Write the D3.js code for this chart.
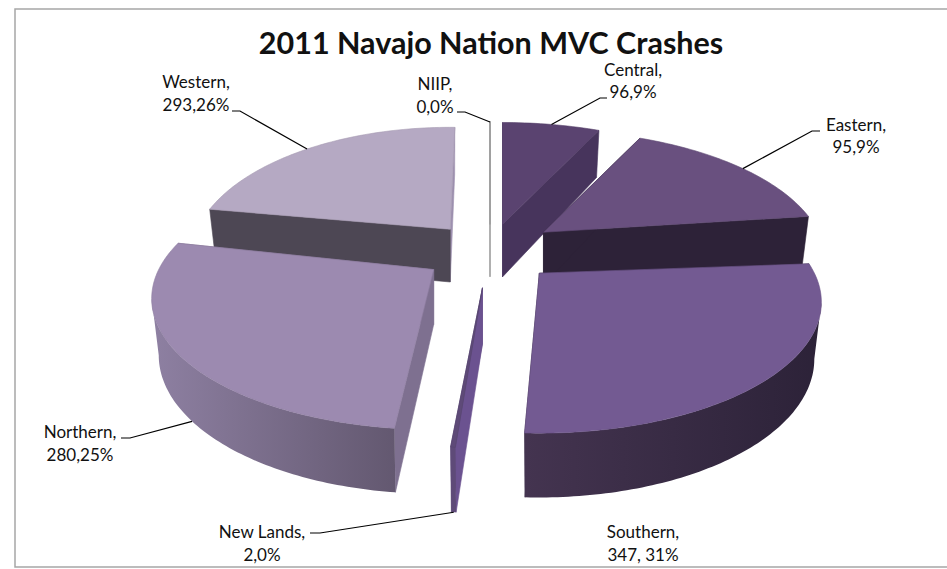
<!DOCTYPE html>
<html>
<head>
	<meta charset="utf-8">
	<script type="text/javascript" src="https://cdn.jsdelivr.net/npm/d3@7"></script>
	<style>
		html, body { margin: 0; padding: 0; background: #fff; overflow: hidden; }
		text { font-family: Lato, sans-serif; fill: #111; }
	</style>
</head>
<body>
	<script type="text/javascript">

	var title = "2011 Navajo Nation MVC Crashes";

	// label text as printed on the chart
	var categories = ["Central", "Eastern", "Southern", "New Lands", "Northern", "Western", "NIIP"];
	var crashes = [96, 95, 347, 2, 280, 293, 0];
	var percents = [9, 9, 31, 0, 25, 26, 0];

	// the wedges in the picture are not proportional to the printed numbers,
	// so the sweep of each one (degrees, as drawn) is read off the picture
	var drawnSweep = [20, 50, 110, 1, 107, 69, 0];
	var turn = [0, 0, 3, 5.5, 7, 4, 3];
	var explode = [1, 1.05, 0.87, 1, 0.89, 1, 1];
	var reach = [1, 1, 1, 1, 1, 0.92, 1];

	var topColor = ["#5a4370", "#69507f", "#735a92", "#5e4a78", "#9c8ab0", "#b5a9c3", "#a9a9a9"];
	var startWall = ["#4c3861", "#2d2238", "#3a2d48", "#6b5290", "#7e7090", "#4d4754", "#a9a9a9"];
	var endWall = ["#47345c", "#2d2238", "#3a2d48", "#5e4a78", "#847694", "#9d90af", "#a9a9a9"];
	var outerLeft = ["#47345c", "#2d2238", "#443450", "#5e4a78", "#8e80a2", "#4d4754", "#a9a9a9"];
	var outerRight = ["#47345c", "#2d2238", "#2c2238", "#5e4a78", "#635870", "#4d4754", "#a9a9a9"];

	// drawn back to front
	var drawOrder = [6, 0, 1, 2, 5, 4, 3];

	var labelLayout = {
		"Central":   {x: 633, y: 76,  dy: 22, elbow: [600, 98],  end: 607},
		"Eastern":   {x: 856, y: 131, dy: 22, elbow: [812, 131], end: 820},
		"Southern":  {x: 643, y: 538, dy: 23},
		"New Lands": {x: 262, y: 538, dy: 23, elbow: [320, 533], end: 310, base: true},
		"Northern":  {x: 80,  y: 438, dy: 23, elbow: [130, 438], end: 121, base: true},
		"Western":   {x: 196, y: 88,  dy: 23, elbow: [240, 111], end: 232},
		"NIIP":      {x: 435, y: 90,  dy: 23, elbow: [465, 112], end: 457}
	};

	var w = 947;
	var h = 569;

	// projected pie: rim is an ellipse whose centre sits below the apex (perspective)
	var cx = 490;
	var cy = 256;
	var rx = 282;
	var ry = 131;
	var rimDrop = 29;
	var explodeX = 72;
	var explodeY = 32;
	var baseShrink = 0.975;

	var depth = d3.scaleLinear().domain([130, 445]).range([47, 65]);
	var toRad = d3.scaleLinear().domain([0, 360]).range([0, 2 * Math.PI]);

	var pie = d3.pie()
		.sort(null)
		.endAngle(toRad(d3.sum(drawnSweep)))
		.value(function(d) { return d; });

	var slices = pie(drawnSweep).map(function(p, i) {
		var start = p.startAngle + toRad(turn[i]);
		var end = p.endAngle + toRad(turn[i]);
		var mid = (start + end) / 2;
		return {
			i: i,
			name: categories[i],
			start: start,
			end: end,
			mid: mid,
			ax: cx + explodeX * explode[i] * Math.sin(mid),
			ay: cy - explodeY * explode[i] * Math.cos(mid)
		};
	});

	function rim(s, t) {
		return [
			s.ax + rx * reach[s.i] * Math.sin(t),
			s.ay + rimDrop - ry * Math.cos(t)
		];
	}

	function below(s, p) {
		return [s.ax + (p[0] - s.ax) * baseShrink, p[1] + depth(p[1])];
	}

	function arcPoints(s, a, b) {
		var n = Math.max(2, Math.ceil((b - a) / 0.02));
		return d3.range(n + 1).map(function(k) {
			return rim(s, a + (b - a) * k / n);
		});
	}

	var line = d3.line();

	var svg = d3.select("body")
		.append("svg")
		.attr("width", w)
		.attr("height", h);

	svg.append("rect")
		.attr("x", 15)
		.attr("y", 9)
		.attr("width", 960)
		.attr("height", 558)
		.attr("fill", "#fff")
		.attr("stroke", "#a6a6a6")
		.attr("stroke-width", 1.5);

	var defs = svg.append("defs");
	slices.forEach(function(s) {
		var g = defs.append("linearGradient").attr("id", "outer" + s.i);
		g.append("stop").attr("offset", "0%").attr("stop-color", outerLeft[s.i]);
		g.append("stop").attr("offset", "100%").attr("stop-color", outerRight[s.i]);
	});

	function face(group, s, points, fill, edge) {
		group.append("path")
			.attr("d", line(points) + "Z")
			.attr("fill", fill)
			.attr("stroke", edge)
			.attr("stroke-width", drawnSweep[s.i] === 0 ? 1.4 : 0.6)
			.attr("stroke-linejoin", "round");
	}

	drawOrder.forEach(function(i) {
		var s = slices[i];
		var g = svg.append("g").attr("class", "slice");
		var apex = [s.ax, s.ay];
		var apexBase = below(s, apex);
		var p0 = rim(s, s.start);
		var p1 = rim(s, s.end);

		face(g, s, [apex, p1, below(s, p1), apexBase], endWall[i], endWall[i]);
		face(g, s, [apex, p0, below(s, p0), apexBase], startWall[i], startWall[i]);

		// outer wall, front half only
		var a = Math.max(s.start, Math.PI / 2);
		var b = Math.min(s.end, 3 * Math.PI / 2);
		if (b > a) {
			var upper = arcPoints(s, a, b);
			var lower = upper.map(function(p) { return below(s, p); }).reverse();
			face(g, s, upper.concat(lower), "url(#outer" + i + ")", "none");
		}

		face(g, s, [apex].concat(arcPoints(s, s.start, s.end)), topColor[i], d3.color(topColor[i]).darker(0.25));
	});

	// data labels and their leader lines
	slices.forEach(function(s) {
		var lay = labelLayout[s.name];
		var spaced = s.name === "Southern" ? ", " : ",";
		var label = svg.append("g").attr("class", "label");

		label.append("text")
			.attr("x", lay.x)
			.attr("y", lay.y)
			.attr("text-anchor", "middle")
			.attr("font-size", "17px")
			.text(s.name + ",");

		label.append("text")
			.attr("x", lay.x)
			.attr("y", lay.y + lay.dy)
			.attr("text-anchor", "middle")
			.attr("font-size", "17px")
			.text(crashes[s.i] + spaced + percents[s.i] + "%");

		if (lay.elbow) {
			var from = rim(s, s.mid);
			if (lay.base) from = below(s, from);
			svg.append("path")
				.attr("class", "leader")
				.attr("d", line([from, lay.elbow, [lay.end, lay.elbow[1]]]))
				.attr("fill", "none")
				.attr("stroke", "#000")
				.attr("stroke-width", 1.2);
		}
	});

	svg.append("text")
		.attr("x", 491)
		.attr("y", 53.5)
		.attr("text-anchor", "middle")
		.attr("font-size", "30.5px")
		.attr("font-weight", "bold")
		.text(title);

	</script>
</body>
</html>
